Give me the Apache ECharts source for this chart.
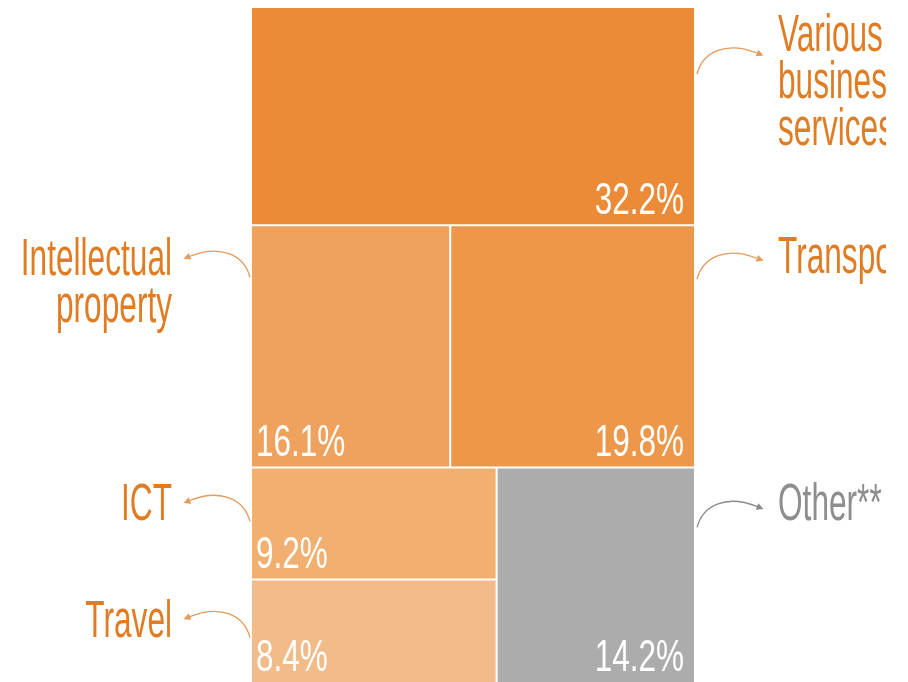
<!DOCTYPE html>
<html>
<head>
<meta charset="utf-8">
<script src="https://cdn.jsdelivr.net/npm/echarts@6/dist/echarts.min.js"></script>
<style>
  html, body { margin: 0; padding: 0; background: #fff; }
  #chart { width: 908px; height: 682px; }
</style>
</head>
<body>
<div id="chart"></div>
<script>
// shares of services exports, %
const categories = ['Various\nbusiness\nservices*', 'Intellectual\nproperty', 'Transport', 'ICT', 'Travel', 'Other**'];
const shares = [32.2, 16.1, 19.8, 9.2, 8.4, 14.2];
// rows -> columns -> cells (indexes into categories)
const rows = [[[0]], [[1], [2]], [[3, 4], [5]]];
const fills = ['#EC8B37', '#EFA25D', '#ED974A', '#F1AF70', '#F2BC8A', '#ACACAC'];
const sides = ['right', 'left', 'right', 'left', 'left', 'right'];
// px below cell top: label baseline, arrow tip
const labelDy = [46, 52, 50, 55, 60, 55];
const arrowDy = [45, 30, 32, 32, 36, 38];

const total = shares.reduce((a, b) => a + b, 0);

// slice and dice layout in data units: x 0..1, y 0..total
function buildCells() {
  const out = [];
  let y = 0;
  rows.forEach(row => {
    const rowSum = row.flat().reduce((a, i) => a + shares[i], 0);
    let x = 0;
    row.forEach(col => {
      const colSum = col.reduce((a, i) => a + shares[i], 0);
      const w = colSum / rowSum;
      let cy = y;
      col.forEach(i => {
        const h = shares[i] / colSum * rowSum;
        out.push([x, x + w, cy, cy + h, i]);
        cy += h;
      });
      x += w;
    });
    y += rowSum;
  });
  return out;
}

const FONT = '"Liberation Sans Narrow", "Arial Narrow", sans-serif';

function renderItem(params, api) {
  const x0 = api.value(0), x1 = api.value(1), y0 = api.value(2), y1 = api.value(3);
  const i = api.value(4);
  const p0 = api.coord([x0, y0]);
  const p1 = api.coord([x1, y1]);
  let left = p0[0], right = p1[0], top = p0[1], bottom = p1[1];
  if (x0 > 0) left += 1;
  if (x1 < 0.999) right -= 1;
  if (y0 > 0) top += 1;
  if (y1 < total - 0.01) bottom -= 1;

  const onRight = sides[i] === 'right';
  const dir = onRight ? 1 : -1;
  const textColor = i === 5 ? '#8E8E8E' : '#E07D24';
  const lineColor = i === 5 ? '#8A8A8A' : '#E69A5A';

  const children = [];
  children.push({
    type: 'rect',
    shape: { x: left, y: top, width: right - left, height: bottom - top },
    style: { fill: fills[i] }
  });
  // percentage inside cell
  children.push({
    type: 'text',
    x: onRight ? right - 10 : left + 4,
    y: bottom - 23,
    scaleX: 0.7,
    style: {
      text: shares[i].toFixed(1) + '%',
      fill: '#fff',
      font: '45px ' + FONT,
      align: onRight ? 'right' : 'left',
      verticalAlign: 'middle'
    }
  });
  // outside category label
  children.push({
    type: 'text',
    x: onRight ? right + 84 : left - 80,
    y: top + labelDy[i] - 41,
    scaleX: 0.62,
    style: {
      text: categories[i],
      fill: textColor,
      font: '51px ' + FONT,
      lineHeight: 47,
      align: onRight ? 'left' : 'right',
      verticalAlign: 'top'
    }
  });
  // curved arrow from the cell edge to the label
  const sx = onRight ? right + 3 : left - 2;
  const ty = top + arrowDy[i];
  const ex = sx + dir * 60, ey = ty;
  const c2x = sx + dir * 30, c2y = ty - 12;
  children.push({
    type: 'bezierCurve',
    shape: { x1: sx, y1: ty + 21, cpx1: sx + dir * 6, cpy1: ty - 2, cpx2: c2x, cpy2: c2y, x2: ex, y2: ey },
    style: { stroke: lineColor, lineWidth: 1.3, fill: null }
  });
  let ux = ex - c2x, uy = ey - c2y;
  const len = Math.sqrt(ux * ux + uy * uy);
  ux /= len; uy /= len;
  const px = -uy, py = ux;
  children.push({
    type: 'polygon',
    shape: { points: [[ex + ux * 7, ey + uy * 7], [ex + px * 3.5, ey + py * 3.5], [ex - px * 3.5, ey - py * 3.5]] },
    style: { fill: lineColor }
  });
  return { type: 'group', children: children };
}

const chart = echarts.init(document.getElementById('chart'));
chart.setOption({
  animation: false,
  grid: { left: 252, right: 214, top: 8, bottom: 0 },
  xAxis: { type: 'value', min: 0, max: 1, show: false },
  yAxis: { type: 'value', min: 0, max: total, inverse: true, show: false },
  graphic: [{
    type: 'rect', right: 0, top: 0, z: 100,
    shape: { width: 22, height: 682 },
    style: { fill: '#fff' }
  }],
  series: [{
    type: 'custom',
    silent: true,
    clip: false,
    renderItem: renderItem,
    encode: { x: [0, 1], y: [2, 3] },
    data: buildCells()
  }]
});
</script>
</body>
</html>
